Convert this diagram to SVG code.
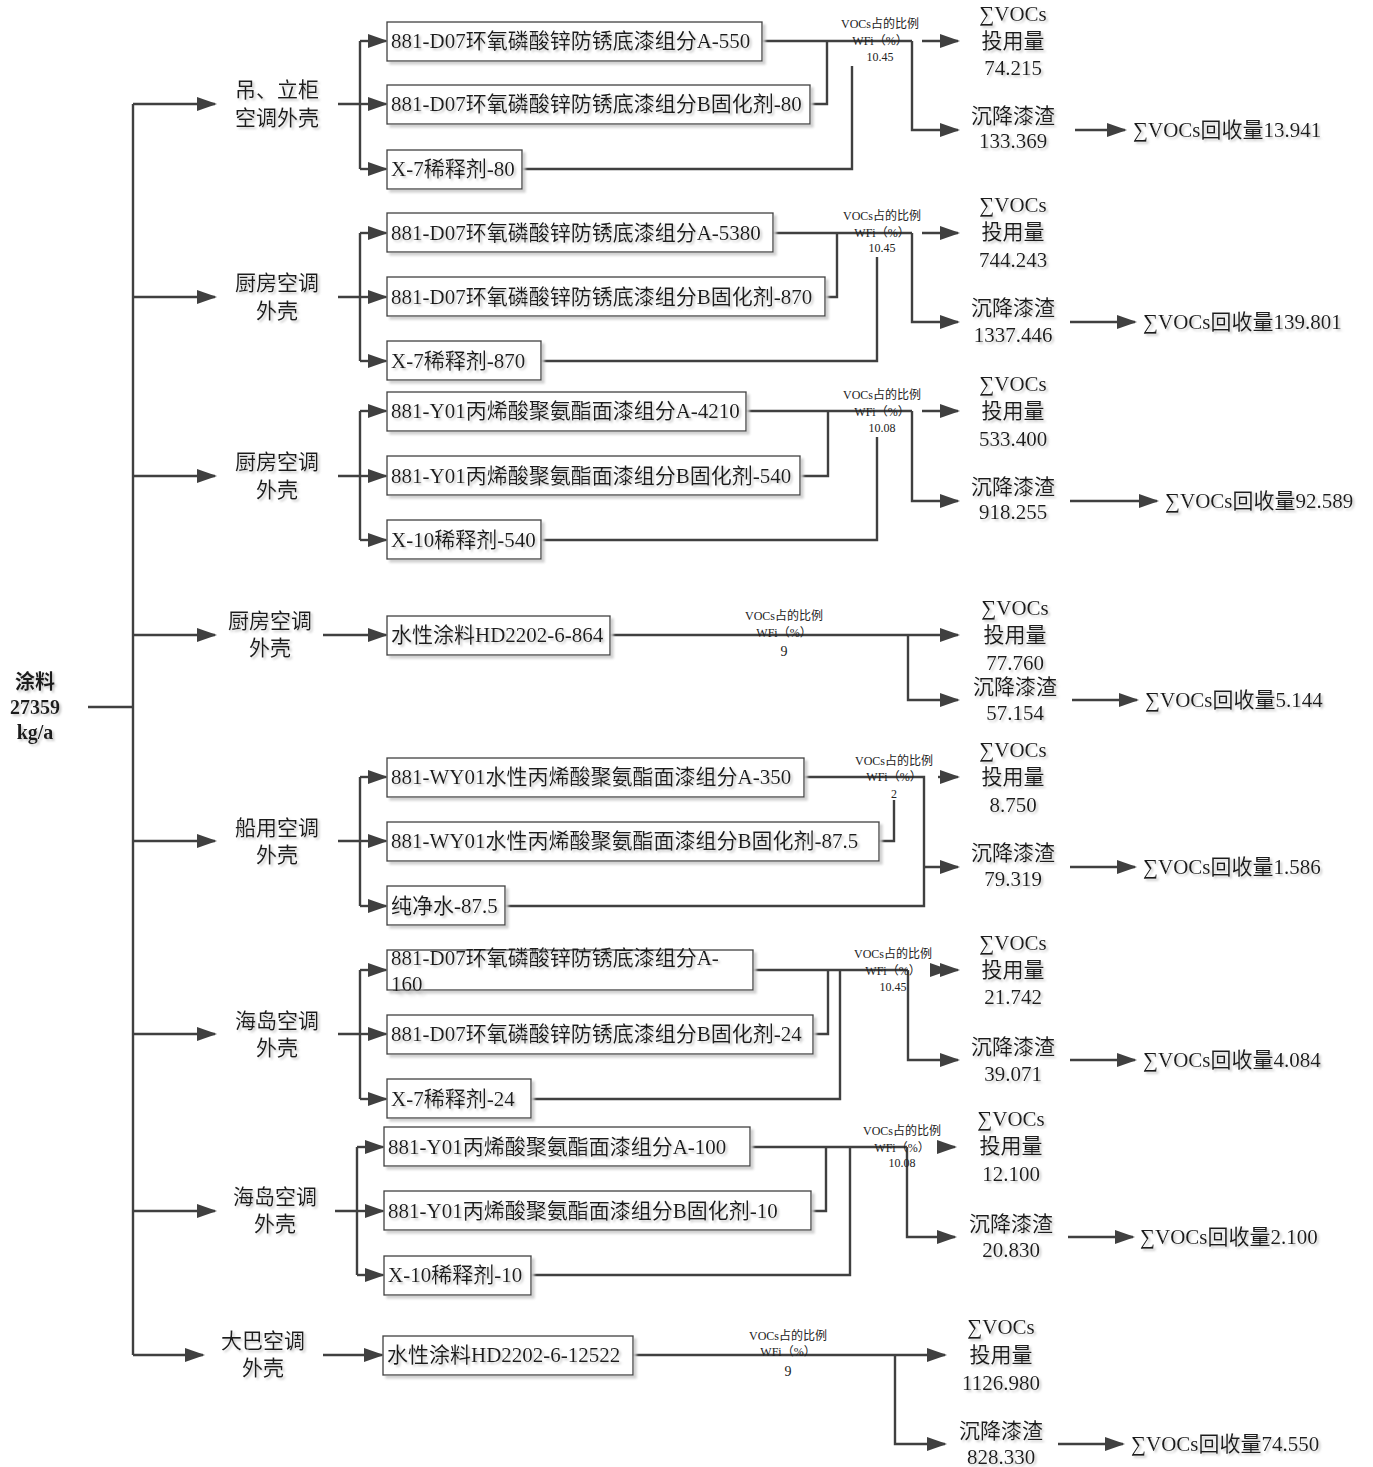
<svg xmlns="http://www.w3.org/2000/svg" width="1373" height="1467" viewBox="0 0 1373 1467">
<style>
text{font-family:"Liberation Serif","Noto Sans CJK SC",serif;fill:#1a1a1a;dominant-baseline:central}
.t{font-size:21px;filter:url(#ts)}
.c{text-anchor:middle}
.s{font-size:12px;text-anchor:middle;fill:#222}
.s9{font-size:14px;text-anchor:middle;fill:#222}
.b rect{fill:#fff;stroke:#404040;stroke-width:1.3}
.b{filter:url(#bs)}
.ln{fill:none;stroke:#404040;stroke-width:2.4}
.ar{fill:none;stroke:#404040;stroke-width:2.4;marker-end:url(#ah)}
.src{font-size:20px;font-weight:bold;text-anchor:middle;filter:url(#ts)}
</style>
<defs>
<marker id="ah" markerUnits="userSpaceOnUse" markerWidth="20" markerHeight="14" refX="18" refY="7" orient="auto"><path d="M0,0 L20,7 L0,14 z" fill="#404040"/></marker>
<filter id="ts" x="-10%" y="-20%" width="130%" height="160%"><feDropShadow dx="2" dy="2" stdDeviation="0.8" flood-color="#bbb" flood-opacity="0.8"/></filter>
<filter id="bs" x="-5%" y="-20%" width="115%" height="160%"><feDropShadow dx="3" dy="3" stdDeviation="1" flood-color="#ccc" flood-opacity="0.9"/></filter>
</defs>
<rect width="1373" height="1467" fill="#fff"/>

<g id="connectors">
<path class="ln" d="M88,707 H133 M133,104 V1355"/>
<path class="ar" d="M133,104 H215"/>
<path class="ar" d="M133,297 H215"/>
<path class="ar" d="M133,476 H215"/>
<path class="ar" d="M133,635 H215"/>
<path class="ar" d="M133,841 H215"/>
<path class="ar" d="M133,1034 H215"/>
<path class="ar" d="M133,1211 H215"/>
<path class="ar" d="M133,1355 H203"/>

<path class="ln" d="M338,104 H360 M360,41 V169"/>
<path class="ar" d="M360,41 H386"/><path class="ar" d="M360,104 H386"/><path class="ar" d="M360,169 H386"/>
<path class="ln" d="M762,41 H912 M810,104 H827 V41 M522,169 H852 V66"/>
<path class="ar" d="M912,41 V130 H958"/>
<path class="ar" d="M922,41 H958"/>
<path class="ar" d="M1075,130 H1125"/>

<path class="ln" d="M338,297 H360 M360,233 V361"/>
<path class="ar" d="M360,233 H386"/><path class="ar" d="M360,297 H386"/><path class="ar" d="M360,361 H386"/>
<path class="ln" d="M773,233 H912 M825,297 H837 V233 M541,361 H877 V257"/>
<path class="ar" d="M912,233 V322 H958"/>
<path class="ar" d="M922,233 H958"/>
<path class="ar" d="M1070,322 H1135"/>

<path class="ln" d="M338,476 H360 M360,411 V540"/>
<path class="ar" d="M360,411 H386"/><path class="ar" d="M360,476 H386"/><path class="ar" d="M360,540 H386"/>
<path class="ln" d="M746,411 H912 M800,476 H828 V411 M541,540 H877 V437"/>
<path class="ar" d="M912,411 V501 H958"/>
<path class="ar" d="M922,411 H958"/>
<path class="ar" d="M1070,501 H1157"/>

<path class="ar" d="M323,635 H386"/>
<path class="ar" d="M610,635 H958"/>
<path class="ar" d="M908,635 V700 H958"/>
<path class="ar" d="M1072,700 H1137"/>

<path class="ln" d="M338,841 H360 M360,777 V906"/>
<path class="ar" d="M360,777 H386"/><path class="ar" d="M360,841 H386"/><path class="ar" d="M360,906 H386"/>
<path class="ln" d="M804,777 H924 V906 H505 M879,841 H894 V800"/>
<path class="ar" d="M938,777 H958"/>
<path class="ar" d="M924,867 H958"/>
<path class="ar" d="M1070,867 H1135"/>

<path class="ln" d="M338,1034 H360 M360,970 V1099"/>
<path class="ar" d="M360,970 H386"/><path class="ar" d="M360,1034 H386"/><path class="ar" d="M360,1099 H386"/>
<path class="ln" d="M753,970 H908 M813,1034 H828 V970 M531,1099 H840 V970"/>
<path class="ar" d="M908,970 V1060 H958"/>
<path class="ar" d="M936,970 H948"/>
<path class="ar" d="M946,970 H958"/>
<path class="ar" d="M1070,1060 H1135"/>

<path class="ln" d="M335,1211 H357 M357,1147 V1275"/>
<path class="ar" d="M357,1147 H383"/><path class="ar" d="M357,1211 H383"/><path class="ar" d="M357,1275 H383"/>
<path class="ln" d="M750,1147 H907 M811,1211 H826 V1147 M531,1275 H850 V1147"/>
<path class="ar" d="M907,1147 V1237 H955"/>
<path class="ar" d="M945,1147 H955"/>
<path class="ar" d="M1068,1237 H1133"/>

<path class="ar" d="M323,1355 H382"/>
<path class="ar" d="M633,1355 H945"/>
<path class="ar" d="M895,1355 V1444 H945"/>
<path class="ar" d="M1058,1444 H1123"/>
</g>

<g id="source">
<text class="src" x="35" y="682">涂料</text>
<text class="src" x="35" y="707">27359</text>
<text class="src" x="35" y="732">kg/a</text>
</g>

<g id="cat1"><text class="t c" x="277" y="90">吊、立柜</text><text class="t c" x="277" y="118">空调外壳</text></g>
<g id="g1a" class="b"><rect x="387" y="22" width="375" height="39"/><text class="t" x="391" y="41">881-D07环氧磷酸锌防锈底漆组分A-550</text></g>
<g id="g1b" class="b"><rect x="387" y="85" width="423" height="39"/><text class="t" x="391" y="104">881-D07环氧磷酸锌防锈底漆组分B固化剂-80</text></g>
<g id="g1c" class="b"><rect x="387" y="150" width="135" height="39"/><text class="t" x="391" y="169">X-7稀释剂-80</text></g>
<g id="r1"><text class="s" x="880" y="24">VOCs占的比例</text><text class="s" x="880" y="41">WFi（%）</text><text class="s" x="880" y="57">10.45</text></g>
<g id="o1a"><text class="t c" x="1013" y="14">∑VOCs</text><text class="t c" x="1013" y="41">投用量</text><text class="t c" x="1013" y="68">74.215</text></g>
<g id="o1b"><text class="t c" x="1013" y="116">沉降漆渣</text><text class="t c" x="1013" y="141">133.369</text></g>
<g id="o1c"><text class="t" x="1133" y="130">∑VOCs回收量13.941</text></g>

<g id="cat2"><text class="t c" x="277" y="283">厨房空调</text><text class="t c" x="277" y="311">外壳</text></g>
<g id="g2a" class="b"><rect x="387" y="213" width="386" height="39"/><text class="t" x="391" y="233">881-D07环氧磷酸锌防锈底漆组分A-5380</text></g>
<g id="g2b" class="b"><rect x="387" y="277" width="438" height="39"/><text class="t" x="391" y="297">881-D07环氧磷酸锌防锈底漆组分B固化剂-870</text></g>
<g id="g2c" class="b"><rect x="387" y="341" width="154" height="39"/><text class="t" x="391" y="361">X-7稀释剂-870</text></g>
<g id="r2"><text class="s" x="882" y="216">VOCs占的比例</text><text class="s" x="882" y="233">WFi（%）</text><text class="s" x="882" y="248">10.45</text></g>
<g id="o2a"><text class="t c" x="1013" y="205">∑VOCs</text><text class="t c" x="1013" y="232">投用量</text><text class="t c" x="1013" y="260">744.243</text></g>
<g id="o2b"><text class="t c" x="1013" y="308">沉降漆渣</text><text class="t c" x="1013" y="335">1337.446</text></g>
<g id="o2c"><text class="t" x="1143" y="322">∑VOCs回收量139.801</text></g>

<g id="cat3"><text class="t c" x="277" y="462">厨房空调</text><text class="t c" x="277" y="490">外壳</text></g>
<g id="g3a" class="b"><rect x="387" y="392" width="359" height="39"/><text class="t" x="391" y="411">881-Y01丙烯酸聚氨酯面漆组分A-4210</text></g>
<g id="g3b" class="b"><rect x="387" y="456" width="413" height="39"/><text class="t" x="391" y="476">881-Y01丙烯酸聚氨酯面漆组分B固化剂-540</text></g>
<g id="g3c" class="b"><rect x="387" y="520" width="154" height="39"/><text class="t" x="391" y="540">X-10稀释剂-540</text></g>
<g id="r3"><text class="s" x="882" y="395">VOCs占的比例</text><text class="s" x="882" y="412">WFi（%）</text><text class="s" x="882" y="428">10.08</text></g>
<g id="o3a"><text class="t c" x="1013" y="384">∑VOCs</text><text class="t c" x="1013" y="411">投用量</text><text class="t c" x="1013" y="439">533.400</text></g>
<g id="o3b"><text class="t c" x="1013" y="487">沉降漆渣</text><text class="t c" x="1013" y="512">918.255</text></g>
<g id="o3c"><text class="t" x="1165" y="501">∑VOCs回收量92.589</text></g>

<g id="cat4"><text class="t c" x="270" y="621">厨房空调</text><text class="t c" x="270" y="648">外壳</text></g>
<g id="g4a" class="b"><rect x="387" y="616" width="223" height="39"/><text class="t" x="391" y="635">水性涂料HD2202-6-864</text></g>
<g id="r4"><text class="s" x="784" y="616">VOCs占的比例</text><text class="s" x="784" y="633">WFi（%）</text><text class="s9" x="784" y="651">9</text></g>
<g id="o4a"><text class="t c" x="1015" y="608">∑VOCs</text><text class="t c" x="1015" y="635">投用量</text><text class="t c" x="1015" y="663">77.760</text></g>
<g id="o4b"><text class="t c" x="1015" y="687">沉降漆渣</text><text class="t c" x="1015" y="713">57.154</text></g>
<g id="o4c"><text class="t" x="1145" y="700">∑VOCs回收量5.144</text></g>

<g id="cat5"><text class="t c" x="277" y="828">船用空调</text><text class="t c" x="277" y="855">外壳</text></g>
<g id="g5a" class="b"><rect x="387" y="758" width="417" height="39"/><text class="t" x="391" y="777">881-WY01水性丙烯酸聚氨酯面漆组分A-350</text></g>
<g id="g5b" class="b"><rect x="387" y="822" width="492" height="39"/><text class="t" x="391" y="841">881-WY01水性丙烯酸聚氨酯面漆组分B固化剂-87.5</text></g>
<g id="g5c" class="b"><rect x="387" y="886" width="118" height="39"/><text class="t" x="391" y="906">纯净水-87.5</text></g>
<g id="r5"><text class="s" x="894" y="761">VOCs占的比例</text><text class="s" x="894" y="777">WFi（%）</text><text class="s" x="894" y="794">2</text></g>
<g id="o5a"><text class="t c" x="1013" y="750">∑VOCs</text><text class="t c" x="1013" y="777">投用量</text><text class="t c" x="1013" y="805">8.750</text></g>
<g id="o5b"><text class="t c" x="1013" y="853">沉降漆渣</text><text class="t c" x="1013" y="879">79.319</text></g>
<g id="o5c"><text class="t" x="1143" y="867">∑VOCs回收量1.586</text></g>

<g id="cat6"><text class="t c" x="277" y="1021">海岛空调</text><text class="t c" x="277" y="1048">外壳</text></g>
<g id="g6a" class="b"><rect x="387" y="950" width="366" height="40"/><text class="t" x="391" y="958">881-D07环氧磷酸锌防锈底漆组分A-</text><text class="t" x="391" y="984">160</text></g>
<g id="g6b" class="b"><rect x="387" y="1015" width="426" height="39"/><text class="t" x="391" y="1034">881-D07环氧磷酸锌防锈底漆组分B固化剂-24</text></g>
<g id="g6c" class="b"><rect x="387" y="1079" width="144" height="39"/><text class="t" x="391" y="1099">X-7稀释剂-24</text></g>
<g id="r6"><text class="s" x="893" y="954">VOCs占的比例</text><text class="s" x="893" y="971">WFi（%）</text><text class="s" x="893" y="987">10.45</text></g>
<g id="o6a"><text class="t c" x="1013" y="943">∑VOCs</text><text class="t c" x="1013" y="970">投用量</text><text class="t c" x="1013" y="997">21.742</text></g>
<g id="o6b"><text class="t c" x="1013" y="1047">沉降漆渣</text><text class="t c" x="1013" y="1074">39.071</text></g>
<g id="o6c"><text class="t" x="1143" y="1060">∑VOCs回收量4.084</text></g>

<g id="cat7"><text class="t c" x="275" y="1197">海岛空调</text><text class="t c" x="275" y="1224">外壳</text></g>
<g id="g7a" class="b"><rect x="384" y="1127" width="366" height="39"/><text class="t" x="388" y="1147">881-Y01丙烯酸聚氨酯面漆组分A-100</text></g>
<g id="g7b" class="b"><rect x="384" y="1191" width="427" height="39"/><text class="t" x="388" y="1211">881-Y01丙烯酸聚氨酯面漆组分B固化剂-10</text></g>
<g id="g7c" class="b"><rect x="384" y="1256" width="147" height="39"/><text class="t" x="388" y="1275">X-10稀释剂-10</text></g>
<g id="r7"><text class="s" x="902" y="1131">VOCs占的比例</text><text class="s" x="902" y="1148">WFi（%）</text><text class="s" x="902" y="1163">10.08</text></g>
<g id="o7a"><text class="t c" x="1011" y="1119">∑VOCs</text><text class="t c" x="1011" y="1146">投用量</text><text class="t c" x="1011" y="1174">12.100</text></g>
<g id="o7b"><text class="t c" x="1011" y="1224">沉降漆渣</text><text class="t c" x="1011" y="1250">20.830</text></g>
<g id="o7c"><text class="t" x="1140" y="1237">∑VOCs回收量2.100</text></g>

<g id="cat8"><text class="t c" x="263" y="1341">大巴空调</text><text class="t c" x="263" y="1368">外壳</text></g>
<g id="g8a" class="b"><rect x="383" y="1336" width="250" height="39"/><text class="t" x="387" y="1355">水性涂料HD2202-6-12522</text></g>
<g id="r8"><text class="s" x="788" y="1336">VOCs占的比例</text><text class="s" x="788" y="1352">WFi（%）</text><text class="s9" x="788" y="1371">9</text></g>
<g id="o8a"><text class="t c" x="1001" y="1327">∑VOCs</text><text class="t c" x="1001" y="1355">投用量</text><text class="t c" x="1001" y="1383">1126.980</text></g>
<g id="o8b"><text class="t c" x="1001" y="1431">沉降漆渣</text><text class="t c" x="1001" y="1457">828.330</text></g>
<g id="o8c"><text class="t" x="1131" y="1444">∑VOCs回收量74.550</text></g>
</svg>
